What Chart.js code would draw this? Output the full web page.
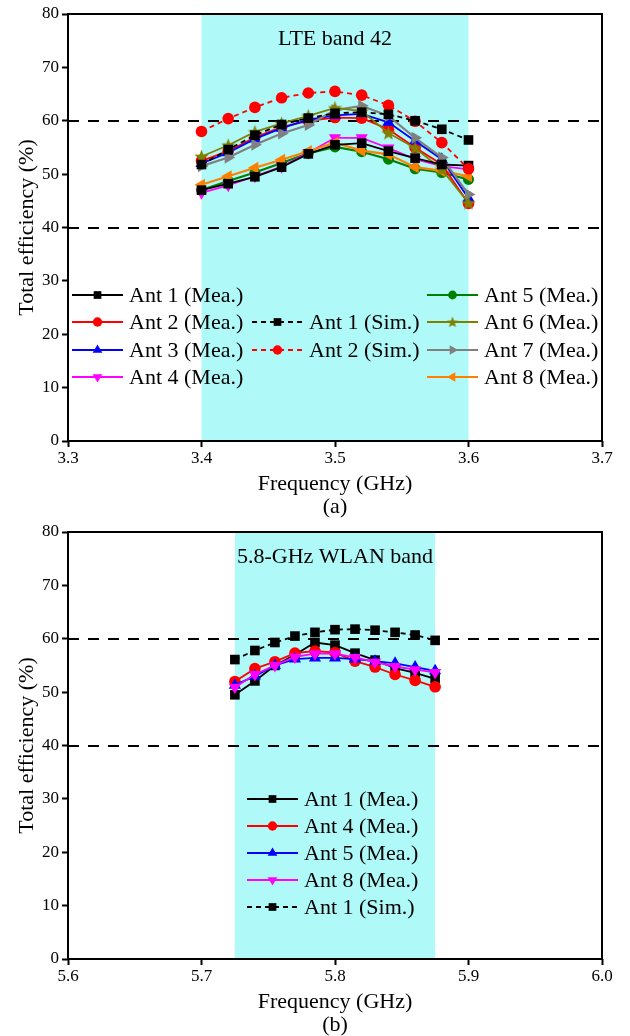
<!DOCTYPE html>
<html>
<head>
<meta charset="utf-8">
<script src="https://cdn.jsdelivr.net/npm/chart.js@4/dist/chart.umd.min.js"></script>
<style>
html, body { margin: 0; padding: 0; background: #fff; }
.wrap { position: relative; width: 630px; height: 518px; }
</style>
</head>
<body>
<div class="wrap"><canvas id="chartA"></canvas></div>
<div class="wrap"><canvas id="chartB"></canvas></div>
<script>
// (a) LTE band 42
const freqA = [3.40, 3.42, 3.44, 3.46, 3.48, 3.50, 3.52, 3.54, 3.56, 3.58, 3.60];
const ant1MeaA = [47.0, 48.2, 49.5, 51.3, 53.8, 55.5, 55.8, 54.3, 53.0, 51.8, 51.6];
const ant2MeaA = [52.5, 54.3, 56.9, 58.8, 60.0, 60.6, 60.5, 58.4, 55.0, 51.8, 44.5];
const ant3MeaA = [52.0, 54.0, 56.6, 58.6, 60.2, 61.0, 61.3, 59.7, 56.2, 52.8, 45.5];
const ant4MeaA = [46.5, 47.9, 49.6, 51.4, 54.0, 56.8, 56.8, 54.9, 52.8, 51.5, 50.9];
const ant5MeaA = [47.0, 48.7, 50.3, 52.1, 53.9, 55.1, 54.2, 52.8, 51.0, 50.3, 49.0];
const ant6MeaA = [53.3, 55.4, 57.9, 59.5, 60.9, 62.4, 61.8, 57.7, 54.9, 50.9, 44.6];
const ant7MeaA = [51.5, 53.1, 55.5, 57.6, 59.2, 62.0, 62.8, 60.9, 56.8, 53.1, 46.2];
const ant8MeaA = [48.0, 49.6, 51.2, 52.7, 54.3, 55.9, 54.4, 53.7, 51.3, 50.6, 49.6];
const ant1SimA = [51.8, 54.6, 57.3, 59.3, 60.5, 61.4, 61.6, 61.2, 60.0, 58.4, 56.4];
const ant2SimA = [58.0, 60.4, 62.5, 64.3, 65.2, 65.5, 64.8, 62.9, 59.9, 55.9, 51.0];

// (b) 5.8-GHz WLAN band
const freqB = [5.725, 5.74, 5.755, 5.77, 5.785, 5.80, 5.815, 5.83, 5.845, 5.86, 5.875];
const ant1MeaB = [49.5, 52.1, 55.0, 57.0, 59.3, 58.8, 57.3, 56.0, 54.5, 53.6, 52.5];
const ant4MeaB = [52.0, 54.4, 55.7, 57.3, 57.7, 57.4, 55.8, 54.7, 53.3, 52.2, 51.0];
const ant5MeaB = [51.3, 53.0, 55.0, 56.2, 56.4, 56.4, 56.2, 55.8, 55.4, 54.7, 54.0];
const ant8MeaB = [50.9, 53.3, 55.0, 56.6, 57.2, 57.2, 56.5, 55.6, 54.8, 54.2, 53.7];
const ant1SimB = [56.1, 57.8, 59.3, 60.5, 61.2, 61.7, 61.8, 61.6, 61.2, 60.7, 59.7];

const yTicks = [0, 10, 20, 30, 40, 50, 60, 70, 80];
const refLines = [40, 60];

const SERIF = '"Liberation Serif", "Times New Roman", serif';

function starImage(size, color) {
    const c = document.createElement('canvas');
    c.width = c.height = size;
    const g = c.getContext('2d');
    const cx = size / 2, cy = size / 2 + 0.5;
    const ro = size / 2, ri = ro * 0.42;
    g.beginPath();
    for (let i = 0; i < 10; i++) {
        const r = i % 2 ? ri : ro;
        const a = -Math.PI / 2 + i * Math.PI / 5;
        g.lineTo(cx + r * Math.cos(a), cy + r * Math.sin(a));
    }
    g.closePath();
    g.fillStyle = color;
    g.fill();
    return c;
}

function series(label, xs, ys, color, style, opts) {
    opts = opts || {};
    return {
        label: label,
        data: xs.map((x, i) => ({ x: x, y: ys[i] })),
        borderColor: color,
        backgroundColor: color,
        borderWidth: opts.width || 1.8,
        borderDash: opts.dash || [],
        pointStyle: style,
        pointRotation: opts.rotation || 0,
        pointRadius: opts.radius || 5.5,
        pointBorderWidth: 0,
        pointBackgroundColor: color,
        tension: 0
    };
}

const starOlive = starImage(15, '#808000');
const starOliveSmall = starImage(12, '#808000');

const bandPlugin = {
    id: 'band',
    beforeDatasetsDraw(chart, args, o) {
        const { ctx, chartArea: a, scales: { x, y } } = chart;
        ctx.save();
        ctx.fillStyle = '#aff9f9';
        const x0 = x.getPixelForValue(o.from), x1 = x.getPixelForValue(o.to);
        ctx.fillRect(x0, a.top, x1 - x0, a.bottom - a.top);
        ctx.strokeStyle = '#000';
        ctx.lineWidth = 2;
        ctx.setLineDash([11, 9]);
        refLines.forEach(v => {
            const py = Math.round(y.getPixelForValue(v));
            ctx.beginPath();
            ctx.moveTo(a.left, py);
            ctx.lineTo(a.right, py);
            ctx.stroke();
        });
        ctx.restore();
    },
    afterDraw(chart, args, o) {
        const { ctx, chartArea: a } = chart;
        ctx.save();
        ctx.strokeStyle = '#000';
        ctx.lineWidth = 2;
        ctx.strokeRect(a.left, a.top, a.right - a.left, a.bottom - a.top);
        ctx.fillStyle = '#000';
        ctx.font = '22px ' + SERIF;
        ctx.textAlign = 'center';
        ctx.textBaseline = 'middle';
        const mid = (a.left + a.right) / 2;
        ctx.fillText(o.title, mid, a.top + 25);
        ctx.fillText(o.caption, mid, 507);
        ctx.restore();
    }
};

const legendPlugin = {
    id: 'inLegend',
    afterDatasetsDraw(chart, args, o) {
        const ctx = chart.ctx;
        ctx.save();
        o.items.forEach(it => {
            const ds = chart.data.datasets[it.ds];
            ctx.strokeStyle = ds.borderColor;
            ctx.fillStyle = ds.backgroundColor;
            ctx.lineWidth = ds.borderWidth;
            ctx.setLineDash(ds.borderDash);
            ctx.beginPath();
            ctx.moveTo(it.x, it.y);
            ctx.lineTo(it.x + o.lineLen, it.y);
            ctx.stroke();
            ctx.setLineDash([]);
            const style = ds.pointStyle === starOlive ? starOliveSmall : ds.pointStyle;
            Chart.helpers.drawPoint(ctx, {
                pointStyle: style,
                rotation: ds.pointRotation,
                radius: ds.pointRadius * 0.8,
                borderWidth: 0
            }, it.x + o.lineLen / 2, it.y);
            ctx.fillStyle = '#000';
            ctx.font = '22px ' + SERIF;
            ctx.textAlign = 'left';
            ctx.textBaseline = 'middle';
            ctx.fillText(ds.label, it.x + o.lineLen + 6, it.y + 1);
        });
        ctx.restore();
    }
};

function makeChart(id, datasets, xMin, xMax, band, title, caption, legendItems) {
    return new Chart(document.getElementById(id), {
        type: 'line',
        data: { datasets: datasets },
        options: {
            responsive: true,
            maintainAspectRatio: false,
            animation: false,
            layout: { padding: { top: 14, right: 28, left: 0, bottom: 0 } },
            plugins: {
                legend: { display: false },
                tooltip: { enabled: false },
                band: { from: band[0], to: band[1], title: title, caption: caption },
                inLegend: { lineLen: 51, items: legendItems }
            },
            scales: {
                x: {
                    type: 'linear',
                    min: xMin,
                    max: xMax,
                    afterBuildTicks: s => {
                        const t = [];
                        for (let i = 0; i <= 4; i++) t.push({ value: +(xMin + i * 0.1).toFixed(1) });
                        s.ticks = t;
                    },
                    afterFit: s => { s.height = 77; },
                    border: { display: false },
                    grid: { drawOnChartArea: false, drawTicks: true, tickLength: 6, tickWidth: 2, tickColor: '#000' },
                    ticks: {
                        color: '#000',
                        padding: 1,
                        maxRotation: 0,
                        font: { family: SERIF, size: 17 },
                        callback: v => v.toFixed(1)
                    },
                    title: {
                        display: true,
                        text: 'Frequency (GHz)',
                        color: '#000',
                        font: { family: SERIF, size: 22, lineHeight: 1 },
                        padding: { top: 0, bottom: 23 }
                    }
                },
                y: {
                    min: 0,
                    max: 80,
                    afterBuildTicks: s => { s.ticks = yTicks.map(v => ({ value: v })); },
                    afterFit: s => { s.width = 68; },
                    border: { display: false },
                    grid: { drawOnChartArea: false, drawTicks: true, tickLength: 6, tickWidth: 2, tickColor: '#000' },
                    ticks: {
                        color: '#000',
                        padding: 3,
                        font: { family: SERIF, size: 17 }
                    },
                    title: {
                        display: true,
                        text: 'Total efficiency (%)',
                        color: '#000',
                        font: { family: SERIF, size: 22, lineHeight: 1 },
                        padding: { top: 16, bottom: 0 }
                    }
                }
            }
        },
        plugins: [bandPlugin, legendPlugin]
    });
}

const dashSim = [5, 4];

makeChart('chartA', [
    series('Ant 1 (Sim.)', freqA, ant1SimA, '#000000', 'rect', { dash: dashSim, radius: 6.8 }),
    series('Ant 2 (Sim.)', freqA, ant2SimA, '#ff0000', 'circle', { dash: dashSim, radius: 5.8 }),
    series('Ant 1 (Mea.)', freqA, ant1MeaA, '#000000', 'rect', { radius: 6.8 }),
    series('Ant 6 (Mea.)', freqA, ant6MeaA, '#808000', starOlive, {}),
    series('Ant 7 (Mea.)', freqA, ant7MeaA, '#808080', 'triangle', { rotation: 90, radius: 7, width: 2.2 }),
    series('Ant 3 (Mea.)', freqA, ant3MeaA, '#0000ff', 'triangle', { radius: 7 }),
    series('Ant 2 (Mea.)', freqA, ant2MeaA, '#ff0000', 'circle', { radius: 5.8 }),
    series('Ant 8 (Mea.)', freqA, ant8MeaA, '#ff8000', 'triangle', { rotation: -90, radius: 7, width: 2.2 }),
    series('Ant 4 (Mea.)', freqA, ant4MeaA, '#ff00ff', 'triangle', { rotation: 180, radius: 7 }),
    series('Ant 5 (Mea.)', freqA, ant5MeaA, '#008000', 'circle', { width: 2.2 })
], 3.3, 3.7, [3.4, 3.6], 'LTE band 42', '(a)', [
    { ds: 2, x: 72, y: 295 },
    { ds: 6, x: 72, y: 322 },
    { ds: 5, x: 72, y: 350 },
    { ds: 8, x: 72, y: 377 },
    { ds: 0, x: 252, y: 322 },
    { ds: 1, x: 252, y: 350 },
    { ds: 9, x: 427, y: 295 },
    { ds: 3, x: 427, y: 322 },
    { ds: 4, x: 427, y: 350 },
    { ds: 7, x: 427, y: 377 }
]);

makeChart('chartB', [
    series('Ant 1 (Sim.)', freqB, ant1SimB, '#000000', 'rect', { dash: dashSim, radius: 6.8 }),
    series('Ant 8 (Mea.)', freqB, ant8MeaB, '#ff00ff', 'triangle', { rotation: 180, radius: 7 }),
    series('Ant 5 (Mea.)', freqB, ant5MeaB, '#0000ff', 'triangle', { radius: 7 }),
    series('Ant 4 (Mea.)', freqB, ant4MeaB, '#ff0000', 'circle', { radius: 5.8 }),
    series('Ant 1 (Mea.)', freqB, ant1MeaB, '#000000', 'rect', { radius: 6.8 })
], 5.6, 6.0, [5.725, 5.875], '5.8-GHz WLAN band', '(b)', [
    { ds: 4, x: 247, y: 281 },
    { ds: 3, x: 247, y: 308 },
    { ds: 2, x: 247, y: 335 },
    { ds: 1, x: 247, y: 362 },
    { ds: 0, x: 247, y: 389 }
]);
</script>
</body>
</html>
